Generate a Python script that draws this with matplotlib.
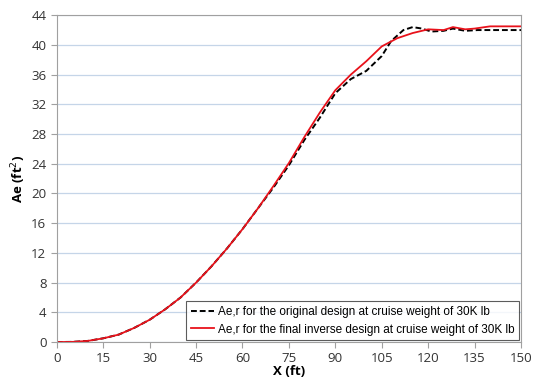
import matplotlib.pyplot as plt
import numpy as np

# data
x_orig = [0, 5, 10, 15, 20, 25, 30, 35, 40, 45, 50, 55, 60, 65, 70, 75, 80, 85,
          90, 95, 100, 105, 108, 112, 115, 118, 121, 125, 128, 132, 136, 140, 150]
y_orig = [0, 0.02, 0.15, 0.5, 1.0, 1.9, 3.0, 4.4, 6.0, 8.0, 10.2, 12.6, 15.2, 18.0,
          20.8, 23.8, 27.2, 30.2, 33.5, 35.4, 36.5, 38.5, 40.5, 42.0, 42.4, 42.2,
          41.8, 41.9, 42.2, 41.9, 42.0, 42.0, 42.0]

x_final = [0, 5, 10, 15, 20, 25, 30, 35, 40, 45, 50, 55, 60, 65, 70, 75, 80, 85,
           90, 95, 100, 105, 110, 115, 120, 125, 128, 132, 135, 140, 150]
y_final = [0, 0.02, 0.15, 0.5, 1.0, 1.9, 3.0, 4.4, 6.0, 8.0, 10.2, 12.6, 15.2, 18.0,
           21.0, 24.1, 27.6, 30.9, 33.9, 36.0, 37.8, 39.8, 40.9, 41.6, 42.1, 42.0,
           42.4, 42.1, 42.2, 42.5, 42.5]

label_orig = "Ae,r for the original design at cruise weight of 30K lb"
label_final = "Ae,r for the final inverse design at cruise weight of 30K lb"

plt.rcParams['font.family'] = ['Open Sans', 'DejaVu Sans']

fig = plt.figure(figsize=(5.36, 3.9), dpi=100)
ax = fig.add_axes([0.106, 0.123, 0.866, 0.838])

ax.plot(x_orig, y_orig, color='black', linestyle=(0, (3, 1.5)), linewidth=1.4,
        label=label_orig)
ax.plot(x_final, y_final, color='#e8121b', linewidth=1.3, label=label_final)

ax.set_xlim(0, 150)
ax.set_ylim(0, 44)
ax.set_xticks(np.arange(0, 151, 15))
ax.set_yticks(np.arange(0, 45, 4))
ax.yaxis.grid(True, color='#c5d5e8', linewidth=0.9)
ax.set_axisbelow(True)

for s in ax.spines.values():
    s.set_color('#a0a0a0')
ax.tick_params(axis='both', labelsize=9.5, colors='#333333', length=4,
               color='#a0a0a0')
ax.tick_params(axis='x', pad=3)

ax.set_xlabel("X (ft)", fontsize=9.5, fontweight='bold', labelpad=0)
ax.set_ylabel("Ae (ft$^2$)", fontsize=9.5, fontweight='bold', labelpad=2)

leg = ax.legend(loc='lower right', frameon=True, fancybox=False,
                edgecolor='#333333', handlelength=2.0, handletextpad=0.3,
                borderaxespad=0.15, borderpad=0.4, labelspacing=0.5,
                prop={'family': ['Liberation Sans', 'DejaVu Sans'], 'size': 8.5})
leg.get_frame().set_linewidth(0.8)

fig.savefig("out.png", dpi=100)
